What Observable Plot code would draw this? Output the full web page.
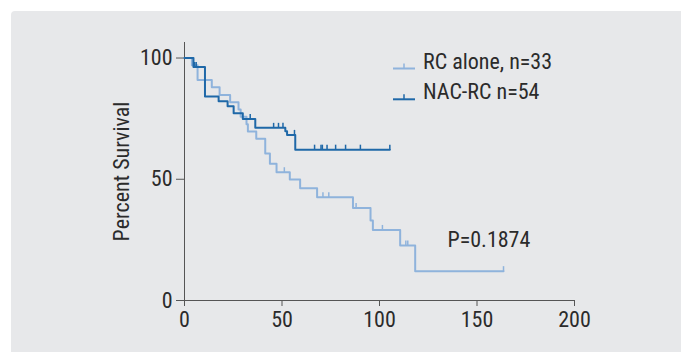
<!DOCTYPE html>
<html><head><meta charset="utf-8">
<script src="https://cdn.jsdelivr.net/npm/d3@7"></script>
<script src="https://cdn.jsdelivr.net/npm/@observablehq/plot@0.6"></script>
<style>
html,body{margin:0;padding:0;background:#fff;}
#wrap{position:relative;width:681px;height:353px;overflow:hidden;}
#panel{position:absolute;left:11px;top:11px;right:0;bottom:1px;background:#e7e8ea;border-top-left-radius:4px;}
#chart{position:absolute;left:0;top:0;}
#legend{position:absolute;left:0;top:0;}
</style></head>
<body><div id="wrap"><div id="panel"></div><div id="chart"></div><svg id="legend" width="681" height="353"></svg></div>
<script>
const FONT = '"Liberation Sans Narrow","Roboto Condensed","DejaVu Sans Condensed",sans-serif';
const xTicks = [0, 50, 100, 150, 200];
const yTicks = [0, 50, 100];
const seriesNames = ["RC alone, n=33", "NAC-RC n=54"];
const seriesColors = ["#8fb3dc", "#1f68a8"];
const yLabel = "Percent Survival";
const pValueLabel = "P=0.1874";

// RC alone (n=33) Kaplan-Meier steps
const rcTimes = [0, 3.8, 6.7, 14.0, 18.0, 23.4, 27.7, 28.8, 31.8, 32.5, 36.8, 41.4, 43.8, 47.2, 54.0, 59.3, 68.0, 86.4, 95.4, 96.6, 110.6, 118.3, 163.6];
const rcSurv  = [100, 97.0, 90.9, 87.9, 84.8, 81.8, 78.8, 75.8, 72.7, 69.7, 66.7, 60.6, 56.4, 52.9, 49.9, 46.3, 42.6, 38.1, 33.0, 29.1, 22.7, 12.1, 12.1];
const rcCensor = [51.2, 71.0, 74.0, 88.0, 101.5, 113.5, 114.5, 163.6];

// NAC-RC (n=54) Kaplan-Meier steps
const nacTimes = [0, 4.6, 10.5, 17.5, 22.1, 25.2, 29.9, 36.3, 51.7, 52.6, 56.8, 105.3];
const nacSurv  = [100, 96.3, 84.1, 82.2, 80.1, 77.2, 74.9, 71.2, 69.8, 68.3, 62.2, 62.2];
const nacCensor = [5.2, 6.0, 33.7, 45.7, 48.2, 50.5, 56.4, 66.7, 70.0, 70.7, 73.1, 77.5, 82.6, 90.2, 105.3];

function steps(times, surv){ return times.map((t,i)=>({t, s: surv[i]})); }
function survAt(times, surv, t){ let s = surv[0]; for (let i=0;i<times.length;i++){ if (times[i] <= t) s = surv[i]; } return s; }
function censors(cs, times, surv){ return cs.map(t=>({t, s: survAt(times, surv, t)})); }

const rcData = steps(rcTimes, rcSurv);
const nacData = steps(nacTimes, nacSurv);
const rcC = censors(rcCensor, rcTimes, rcSurv);
const nacC = censors(nacCensor, nacTimes, nacSurv);

const tickUp = {draw(ctx){ ctx.moveTo(0,0); ctx.lineTo(0,-5); }};

const chart = Plot.plot({
  width: 681, height: 353,
  marginLeft: 184, marginRight: 107, marginTop: 42, marginBottom: 53,
  style: {background: "transparent", fontFamily: FONT, fontSize: "22px", color: "#333"},
  x: {domain: [0, 200]},
  y: {domain: [0, 106.4]},
  marks: [
    Plot.axisX({ticks: xTicks, tickSize: 6, tickPadding: 5, label: null, stroke: "#555", fill: "#2b2b2b"}),
    Plot.axisY({ticks: yTicks, tickSize: 8, tickPadding: 4, label: null, stroke: "#555", fill: "#2b2b2b"}),
    Plot.ruleX([0], {stroke: "#555", strokeWidth: 1}),
    Plot.ruleY([0], {stroke: "#555", strokeWidth: 1}),
    Plot.line(rcData, {x: "t", y: "s", curve: "step-after", stroke: seriesColors[0], strokeWidth: 2}),
    Plot.dot(rcC, {x: "t", y: "s", symbol: tickUp, fill: "none", stroke: seriesColors[0], strokeWidth: 1.5}),
    Plot.line(nacData, {x: "t", y: "s", curve: "step-after", stroke: seriesColors[1], strokeWidth: 2}),
    Plot.dot(nacC, {x: "t", y: "s", symbol: tickUp, fill: "none", stroke: seriesColors[1], strokeWidth: 1.5}),
    Plot.text([yLabel], {frameAnchor: "left", rotate: -90, dx: -63, textAnchor: "middle", lineAnchor: "middle", fill: "#2b2b2b", fontSize: 22}),
    Plot.text([pValueLabel], {frameAnchor: "top-left", dx: 263, dy: 197, textAnchor: "start", lineAnchor: "middle", fill: "#2b2b2b", fontSize: 22})
  ]
});
document.getElementById("chart").append(chart);

// legend
const lg = d3.select("#legend");
const rows = [68.5, 99.3];
seriesNames.forEach((name, i) => {
  const y = rows[i];
  lg.append("line").attr("x1", 393).attr("x2", 415).attr("y1", y).attr("y2", y).attr("stroke", seriesColors[i]).attr("stroke-width", 2);
  lg.append("line").attr("x1", 404).attr("x2", 404).attr("y1", y).attr("y2", y - 5).attr("stroke", seriesColors[i]).attr("stroke-width", 1.5);
  lg.append("text").attr("x", 423).attr("y", y).attr("font-family", FONT).attr("font-size", 22).attr("fill", "#2b2b2b").text(name);
});
</script>
</body></html>
